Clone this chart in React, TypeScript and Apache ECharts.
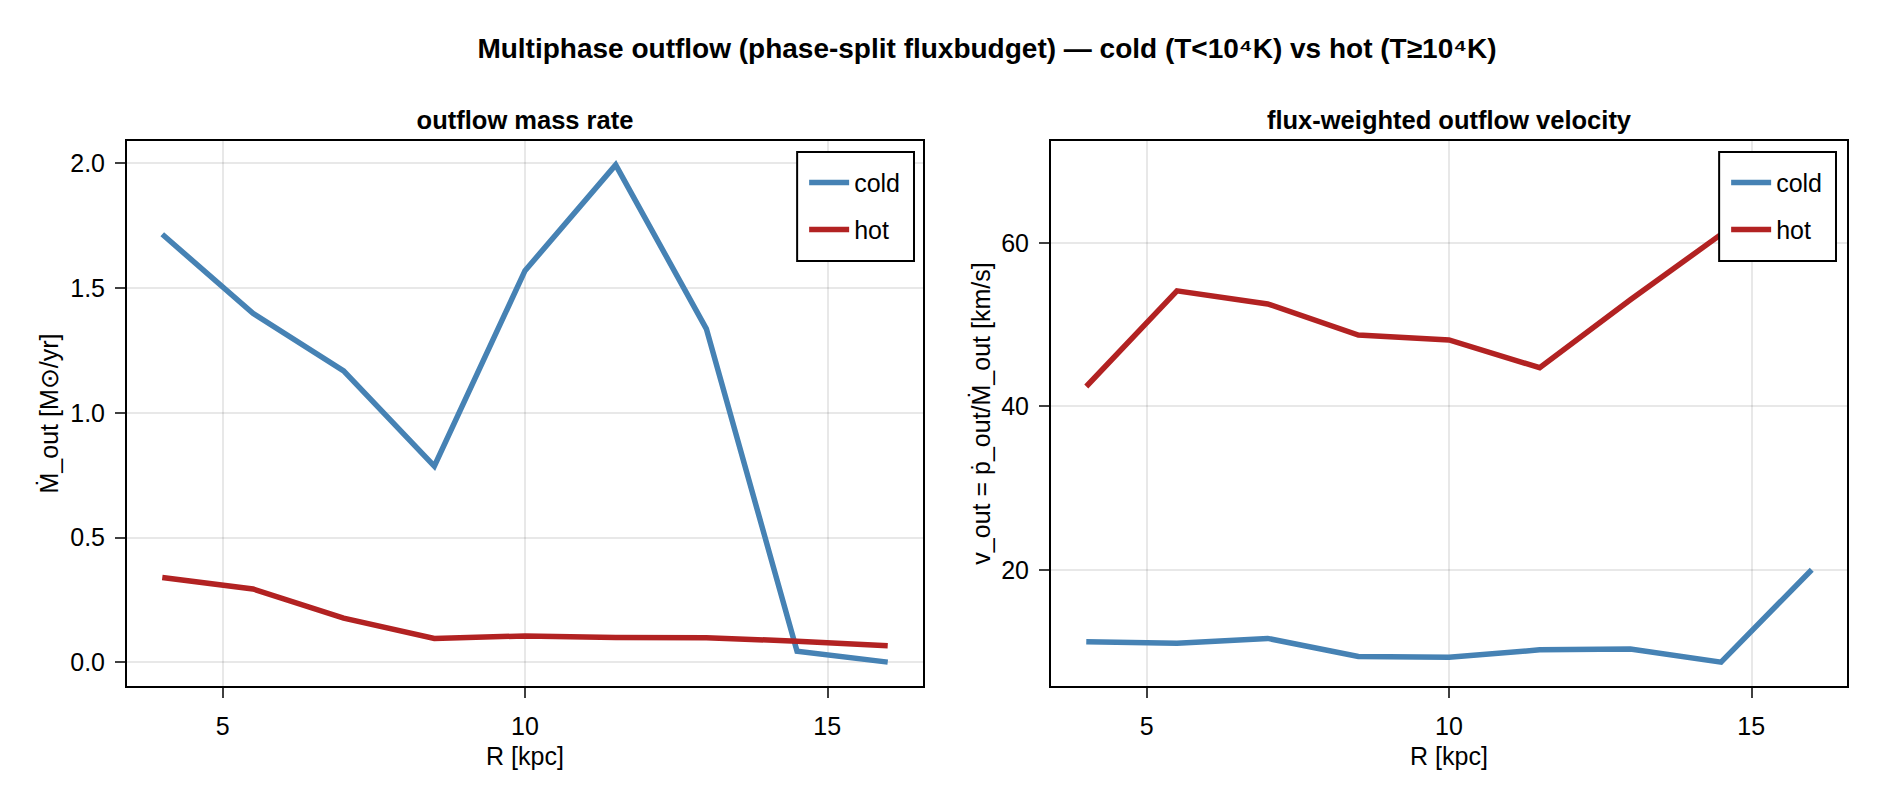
import React, { useEffect, useRef } from "react";
import * as echarts from "echarts";

// ---- data ----
const radius = [4, 5.5, 7, 8.5, 10, 11.5, 13, 14.5, 16];
const massCold = [1.714, 1.397, 1.167, 0.785, 1.568, 1.992, 1.335, 0.044, 0.0];
const massHot = [0.339, 0.293, 0.176, 0.095, 0.105, 0.099, 0.098, 0.084, 0.066];
const velCold = [11.2, 11.0, 11.6, 9.4, 9.3, 10.2, 10.3, 8.7, 20.0];
const velHot = [42.4, 54.1, 52.5, 48.7, 48.1, 44.7, 53.0, 61.0, 69.5];
const xTicks = [5, 10, 15];
const massTicks = [0, 0.5, 1.0, 1.5, 2.0];
const velTicks = [20, 40, 60];
const seriesNames = ["cold", "hot"];

const mainTitle = "Multiphase outflow (phase-split fluxbudget) — cold (T<10⁴K) vs hot (T≥10⁴K)";
const leftTitle = "outflow mass rate";
const rightTitle = "flux-weighted outflow velocity";
const xName = "R [kpc]";
const leftYName = "Ṁ_out [M⊙/yr]";
const rightYName = "v_out = ṗ_out/Ṁ_out [km/s]";

const COLD = "#4682B4";
const HOT = "#B22222";
const FONT = "'Liberation Sans', Arial, sans-serif";
const FS = 25;

function padded(arrs: number[][]): [number, number] {
  const all = arrs.flat();
  const lo = Math.min(...all);
  const hi = Math.max(...all);
  const p = 0.05 * (hi - lo);
  return [lo - p, hi + p];
}

export default function App() {
  const ref = useRef<HTMLDivElement>(null);
  useEffect(() => {
    const chart = echarts.init(ref.current!, null, { renderer: "svg" });
    const xr = padded([radius]);
    const mr = padded([massCold, massHot]);
    const vr = padded([velCold, velHot]);

    const gridLine = { show: true, lineStyle: { color: "rgba(0,0,0,0.12)", width: 1.5 } };
    const tick = (vals: number[]) => ({
      show: true,
      inside: false,
      length: 11,
      customValues: vals,
      lineStyle: { color: "#000", width: 1.5 },
    });
    const label = (vals: number[], margin: number, fmt?: (v: number) => string) => ({
      show: true,
      customValues: vals,
      margin,
      color: "#000",
      fontSize: FS,
      fontFamily: FONT,
      formatter: fmt ? (v: number) => fmt(v) : (v: number) => String(v),
    });
    const axisLine = { show: true, onZero: false, lineStyle: { color: "#000", width: 2 } };

    const xAxis = (gi: number) => ({
      type: "value",
      gridIndex: gi,
      min: xr[0],
      max: xr[1],
      axisLine,
      axisTick: tick(xTicks),
      axisLabel: label(xTicks, 26),
      splitLine: gridLine,
      name: xName,
      nameLocation: "middle",
      nameGap: 56,
      nameTextStyle: { color: "#000", fontSize: FS, fontFamily: FONT },
    });

    const lineSeries = (name: string, gi: number, ys: number[], color: string) => ({
      type: "line",
      name,
      xAxisIndex: gi,
      yAxisIndex: gi,
      data: radius.map((x, i) => [x, ys[i]]),
      showSymbol: false,
      symbol: "none",
      color,
      lineStyle: { color, width: 5.5, join: "miter" },
      emphasis: { disabled: true },
      z: 2,
    });

    const legend = (right: number) => ({
      show: true,
      data: seriesNames,
      orient: "vertical",
      right,
      top: 152,
      icon: "rect",
      itemWidth: 40,
      itemHeight: 5.5,
      itemGap: 22,
      itemTextGap: 11,
      padding: [18, 14, 19, 12],
      backgroundColor: "#fff",
      borderColor: "#000",
      borderWidth: 2,
      borderRadius: 0,
      selectedMode: false,
      textStyle: { color: "#000", fontSize: FS, fontFamily: FONT },
      z: 10,
    });

    const option: any = {
      animation: false,
      backgroundColor: "#fff",
      grid: [
        { left: 126, right: 1880 - 924, top: 140, bottom: 800 - 687, show: true, borderColor: "#000", borderWidth: 2, backgroundColor: "transparent", outerBoundsMode: "none" },
        { left: 1050, right: 1880 - 1848, top: 140, bottom: 800 - 687, show: true, borderColor: "#000", borderWidth: 2, backgroundColor: "transparent", outerBoundsMode: "none" },
      ],
      xAxis: [xAxis(0), xAxis(1)],
      yAxis: [
        {
          type: "value",
          gridIndex: 0,
          min: mr[0],
          max: mr[1],
          axisLine,
          axisTick: tick(massTicks),
          axisLabel: label(massTicks, 21, (v) => v.toFixed(1)),
          splitLine: gridLine,
          name: leftYName,
          nameLocation: "middle",
          nameGap: 65,
          nameRotate: 90,
          nameTextStyle: { color: "#000", fontSize: FS, fontFamily: FONT },
        },
        {
          type: "value",
          gridIndex: 1,
          min: vr[0],
          max: vr[1],
          axisLine,
          axisTick: tick(velTicks),
          axisLabel: label(velTicks, 21, (v) => String(Math.round(v))),
          splitLine: gridLine,
          name: rightYName,
          nameLocation: "middle",
          nameGap: 57,
          nameRotate: 90,
          nameTextStyle: { color: "#000", fontSize: FS, fontFamily: FONT },
        },
      ],
      legend: [legend(1880 - 914), legend(1880 - 1836)],
      series: [
        lineSeries("cold", 0, massCold, COLD),
        lineSeries("hot", 0, massHot, HOT),
        lineSeries("cold", 1, velCold, COLD),
        lineSeries("hot", 1, velHot, HOT),
      ],
      graphic: [
        {
          type: "text",
          x: 987,
          y: 48,
          style: { text: mainTitle, align: "center", verticalAlign: "middle", fill: "#000", font: `bold 28px ${FONT}` },
        },
        {
          type: "text",
          x: 525,
          y: 120,
          style: { text: leftTitle, align: "center", verticalAlign: "middle", fill: "#000", font: `bold 25.5px ${FONT}` },
        },
        {
          type: "text",
          x: 1449,
          y: 120,
          style: { text: rightTitle, align: "center", verticalAlign: "middle", fill: "#000", font: `bold 25.5px ${FONT}` },
        },
      ],
    };
    chart.setOption(option);
    return () => chart.dispose();
  }, []);
  return (
    <div
      ref={ref}
      style={{ position: "fixed", left: 0, top: 0, width: 1880, height: 800, background: "#fff" }}
    />
  );
}
